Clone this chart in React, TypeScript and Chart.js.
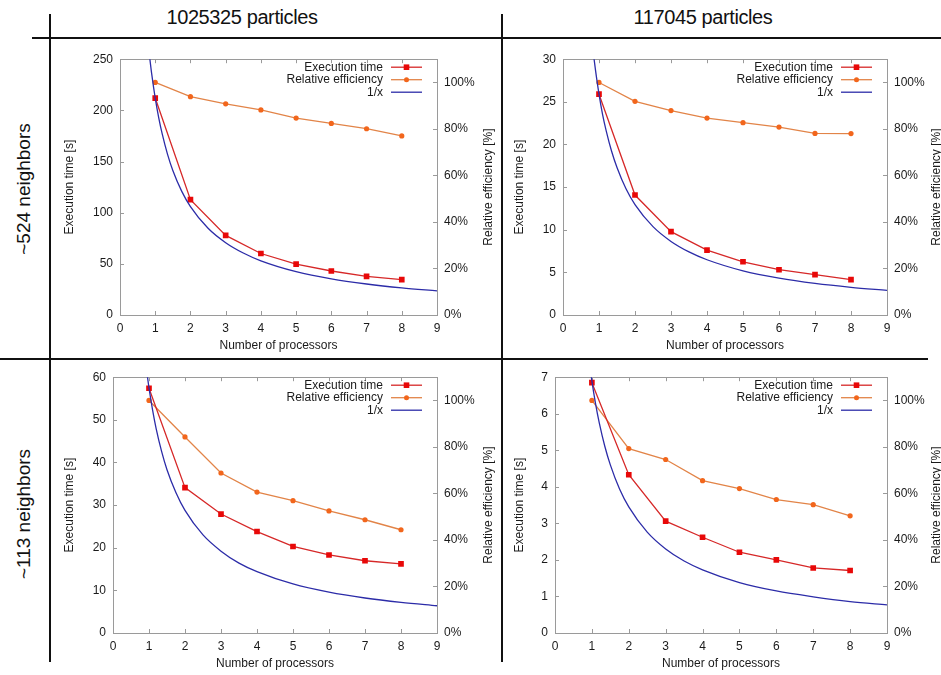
import React, { useEffect, useRef } from 'react';
import { Chart, registerables } from 'chart.js';

Chart.register(...registerables);

// ---------- data ----------
const columnTitles = ['1025325 particles', '117045 particles'];
const rowTitles = ['~524 neighbors', '~113 neighbors'];
const legendLabels = ['Execution time', 'Relative efficiency', '1/x'];
const xAxisTitle = 'Number of processors';
const yAxisTitle = 'Execution time [s]';
const y2AxisTitle = 'Relative efficiency [%]';

const processors = [1, 2, 3, 4, 5, 6, 7, 8];
const xTickValues = [0, 1, 2, 3, 4, 5, 6, 7, 8, 9];
const efficiencyTickValues = [0, 20, 40, 60, 80, 100];

// ~524 neighbors, 1025325 particles
const execTime524Large = [212, 112.7, 77.8, 60.1, 49.7, 43.0, 37.8, 34.6];
const efficiency524Large = [100, 93.9, 90.8, 88.2, 84.7, 82.4, 80.1, 77.0];
// ~524 neighbors, 117045 particles
const execTime524Small = [25.9, 14.07, 9.77, 7.6, 6.24, 5.31, 4.73, 4.15];
const efficiency524Small = [100, 91.9, 87.9, 84.7, 82.7, 80.8, 78.1, 78.0];
// ~113 neighbors, 1025325 particles
const execTime113Large = [57.4, 34.1, 27.9, 23.8, 20.3, 18.3, 16.95, 16.2];
const efficiency113Large = [100, 84.3, 68.8, 60.6, 56.9, 52.5, 48.7, 44.4];
// ~113 neighbors, 117045 particles
const execTime113Small = [6.85, 4.33, 3.06, 2.62, 2.21, 2.0, 1.78, 1.71];
const efficiency113Small = [100, 79.3, 74.6, 65.5, 62.1, 57.4, 55.2, 50.4];

// 1/x reference curves (sample points)
const idealX = [0.84, 0.9, 1, 1.1, 1.2, 1.35, 1.5, 1.75, 2, 2.5, 3, 3.5, 4, 5, 6, 7, 8, 9];
const ideal524Large = [252.4, 235.6, 212, 192.7, 176.7, 157.0, 141.3, 121.1, 106, 84.8, 70.7, 60.6, 53, 42.4, 35.3, 30.3, 26.5, 23.6];
const ideal524Small = [30.8, 28.8, 25.9, 23.5, 21.6, 19.2, 17.3, 14.8, 12.95, 10.36, 8.63, 7.4, 6.48, 5.18, 4.32, 3.7, 3.24, 2.88];
const ideal113Large = [68.5, 63.9, 57.5, 52.3, 47.9, 42.6, 38.3, 32.9, 28.75, 23.0, 19.2, 16.4, 14.4, 11.5, 9.58, 8.21, 7.19, 6.39];
const ideal113Small = [8.21, 7.67, 6.9, 6.27, 5.75, 5.11, 4.6, 3.94, 3.45, 2.76, 2.3, 1.97, 1.73, 1.38, 1.15, 0.99, 0.86, 0.77];

const yMaxValues = [250, 30, 60, 7];
const yStepValues = [50, 5, 10, 1];
const efficiencyAxisMax = 110;

// ---------- styles ----------
const FONT = "'Liberation Sans', Arial, Helvetica, sans-serif";
const TEXT = '#1a1a1a';
const FRAME = '#9a9a9a';
const EXEC_LINE = 'rgb(214,40,40)';
const EXEC_MARK = 'rgb(232,8,8)';
const EFF_LINE = 'rgb(226,132,72)';
const EFF_MARK = 'rgb(242,102,28)';
const IDEAL = 'rgb(44,44,168)';

Chart.defaults.font.family = FONT;
Chart.defaults.font.size = 12;
Chart.defaults.color = TEXT;

const framePlugin = {
  id: 'gnuFrame',
  beforeDatasetsDraw(chart: any) {
    const { ctx, chartArea: a, scales } = chart;
    ctx.save();
    ctx.strokeStyle = FRAME;
    ctx.lineWidth = 1;
    ctx.strokeRect(Math.round(a.left) + 0.5, Math.round(a.top) + 0.5, Math.round(a.right - a.left), Math.round(a.bottom - a.top));
    const tl = 4;
    ctx.beginPath();
    for (const v of xTickValues) {
      const px = Math.round(scales.x.getPixelForValue(v)) + 0.5;
      ctx.moveTo(px, a.bottom); ctx.lineTo(px, a.bottom - tl);
      ctx.moveTo(px, a.top); ctx.lineTo(px, a.top + tl);
    }
    for (const t of scales.y.ticks) {
      const py = Math.round(scales.y.getPixelForValue(t.value)) + 0.5;
      ctx.moveTo(a.left, py); ctx.lineTo(a.left + tl, py);
    }
    for (const v of efficiencyTickValues) {
      const py = Math.round(scales.y2.getPixelForValue(v)) + 0.5;
      ctx.moveTo(a.right, py); ctx.lineTo(a.right - tl, py);
    }
    ctx.stroke();
    ctx.restore();
  },
  afterDatasetsDraw(chart: any) {
    const { ctx, chartArea: a, scales } = chart;
    ctx.save();
    // right axis title, reading bottom to top
    ctx.font = `12px ${FONT}`;
    ctx.fillStyle = TEXT;
    ctx.textAlign = 'center';
    ctx.textBaseline = 'middle';
    ctx.translate(scales.y2.right - 11.5, (a.top + a.bottom) / 2);
    ctx.rotate(-Math.PI / 2);
    ctx.fillText(y2AxisTitle, 0, 0);
    ctx.restore();

    // key
    ctx.save();
    ctx.font = `12px ${FONT}`;
    ctx.textAlign = 'right';
    ctx.textBaseline = 'middle';
    const colors = [[EXEC_LINE, EXEC_MARK], [EFF_LINE, EFF_MARK], [IDEAL, null]];
    legendLabels.forEach((label, i) => {
      const y = a.top + 8 + i * 12.5;
      ctx.fillStyle = TEXT;
      ctx.fillText(label, a.right - 54, y);
      const [lc, mc] = colors[i];
      ctx.strokeStyle = lc as string;
      ctx.lineWidth = 1.3;
      ctx.beginPath();
      ctx.moveTo(a.right - 46, y);
      ctx.lineTo(a.right - 15, y);
      ctx.stroke();
      const mx = a.right - 30.5;
      if (i === 0) {
        ctx.fillStyle = mc as string;
        ctx.fillRect(mx - 2.8, y - 2.8, 5.6, 5.6);
      } else if (i === 1) {
        ctx.fillStyle = mc as string;
        ctx.beginPath();
        ctx.arc(mx, y, 2.5, 0, Math.PI * 2);
        ctx.fill();
      }
    });
    ctx.restore();
  },
};

type Geo = { x: number; y: number; w: number; h: number; leftW: number; rightW: number };

function Panel({ geo, exec, eff, ideal, yMax, yStep }: { geo: Geo; exec: number[]; eff: number[]; ideal: number[]; yMax: number; yStep: number }) {
  const ref = useRef<HTMLCanvasElement>(null);
  useEffect(() => {
    const chart = new Chart(ref.current as HTMLCanvasElement, {
      type: 'line',
      data: {
        datasets: [
          {
            label: legendLabels[2],
            data: idealX.map((x, i) => ({ x, y: ideal[i] })),
            borderColor: IDEAL,
            borderWidth: 1.3,
            pointRadius: 0,
            cubicInterpolationMode: 'monotone',
            yAxisID: 'y',
            clip: 0,
            order: 0,
          },
          {
            label: legendLabels[0],
            data: processors.map((x, i) => ({ x, y: exec[i] })),
            borderColor: EXEC_LINE,
            backgroundColor: EXEC_MARK,
            pointBackgroundColor: EXEC_MARK,
            pointBorderColor: EXEC_MARK,
            pointStyle: 'rect',
            pointRadius: 4,
            pointBorderWidth: 0,
            borderWidth: 1.3,
            yAxisID: 'y',
            order: 1,
          },
          {
            label: legendLabels[1],
            data: processors.map((x, i) => ({ x, y: eff[i] })),
            borderColor: EFF_LINE,
            backgroundColor: EFF_MARK,
            pointBackgroundColor: EFF_MARK,
            pointBorderColor: EFF_MARK,
            pointStyle: 'circle',
            pointRadius: 2.6,
            pointBorderWidth: 0,
            borderWidth: 1.3,
            yAxisID: 'y2',
            order: 2,
          },
        ],
      } as any,
      options: {
        responsive: false,
        animation: false,
        events: [],
        layout: { padding: { top: 12, right: 0, left: 0, bottom: 0 } },
        plugins: { legend: { display: false }, tooltip: { enabled: false } },
        scales: {
          x: {
            type: 'linear',
            min: 0,
            max: 9,
            ticks: { stepSize: 1, padding: 6, autoSkip: false, maxRotation: 0, color: TEXT },
            grid: { display: false, drawTicks: false },
            border: { display: false },
            title: { display: true, text: xAxisTitle, color: TEXT, padding: { top: 0, bottom: 4 } },
            afterFit: (s: any) => { s.height = 42; },
          },
          y: {
            type: 'linear',
            position: 'left',
            min: 0,
            max: yMax,
            ticks: { stepSize: yStep, padding: 7, color: TEXT },
            grid: { display: false, drawTicks: false },
            border: { display: false },
            title: { display: true, text: yAxisTitle, color: TEXT, padding: { top: 7.5, bottom: 0 } },
            afterFit: (s: any) => { s.width = geo.leftW; },
          },
          y2: {
            type: 'linear',
            position: 'right',
            min: 0,
            max: efficiencyAxisMax,
            ticks: { stepSize: 20, padding: 7, color: TEXT, callback: (v: any) => `${v}%` },
            afterBuildTicks: (s: any) => { s.ticks = s.ticks.filter((t: any) => t.value <= 100); },
            grid: { display: false, drawTicks: false },
            border: { display: false },
            afterFit: (s: any) => { s.width = geo.rightW; },
          },
        },
      } as any,
      plugins: [framePlugin],
    });
    return () => chart.destroy();
  }, []);
  return (
    <canvas
      ref={ref}
      width={geo.w}
      height={geo.h}
      style={{ position: 'absolute', left: geo.x, top: geo.y, width: geo.w, height: geo.h }}
    />
  );
}

const geos: Geo[] = [
  { x: 55, y: 45, w: 445, h: 312, leftW: 65, rightW: 63 },
  { x: 505, y: 45, w: 443, h: 312, leftW: 58, rightW: 61 },
  { x: 55, y: 363, w: 445, h: 312, leftW: 58, rightW: 63 },
  { x: 505, y: 363, w: 443, h: 312, leftW: 50, rightW: 61 },
];

const line = (l: number, t: number, w: number, h: number) => (
  <div style={{ position: 'absolute', left: l, top: t, width: w, height: h, background: '#111' }} />
);

export default function App() {
  const execs = [execTime524Large, execTime524Small, execTime113Large, execTime113Small];
  const effs = [efficiency524Large, efficiency524Small, efficiency113Large, efficiency113Small];
  const ideals = [ideal524Large, ideal524Small, ideal113Large, ideal113Small];
  const titleStyle: React.CSSProperties = {
    position: 'absolute', top: 4, width: 300, textAlign: 'center',
    fontFamily: FONT, fontSize: 20, color: '#111', lineHeight: '26px', letterSpacing: -0.4,
  };
  const rowStyle = (cy: number): React.CSSProperties => ({
    position: 'absolute', left: 24 - 100, top: cy - 13, width: 200, height: 26, lineHeight: '26px',
    textAlign: 'center', fontFamily: FONT, fontSize: 19, color: '#111',
    transform: 'rotate(-90deg)', transformOrigin: '50% 50%', whiteSpace: 'nowrap',
  });
  return (
    <div style={{ position: 'fixed', left: 0, top: 0, width: 941, height: 675, background: '#fff', overflow: 'hidden' }}>
      <div style={{ ...titleStyle, left: 242 - 150 }}>{columnTitles[0]}</div>
      <div style={{ ...titleStyle, left: 703 - 150 }}>{columnTitles[1]}</div>
      <div style={rowStyle(189)}>{rowTitles[0]}</div>
      <div style={rowStyle(514)}>{rowTitles[1]}</div>
      {line(32, 37, 909, 2)}
      {line(0, 358, 928, 2)}
      {line(49, 14, 2, 648)}
      {line(501, 14, 2, 648)}
      {geos.map((g, i) => (
        <Panel key={i} geo={g} exec={execs[i]} eff={effs[i]} ideal={ideals[i]} yMax={yMaxValues[i]} yStep={yStepValues[i]} />
      ))}
    </div>
  );
}
